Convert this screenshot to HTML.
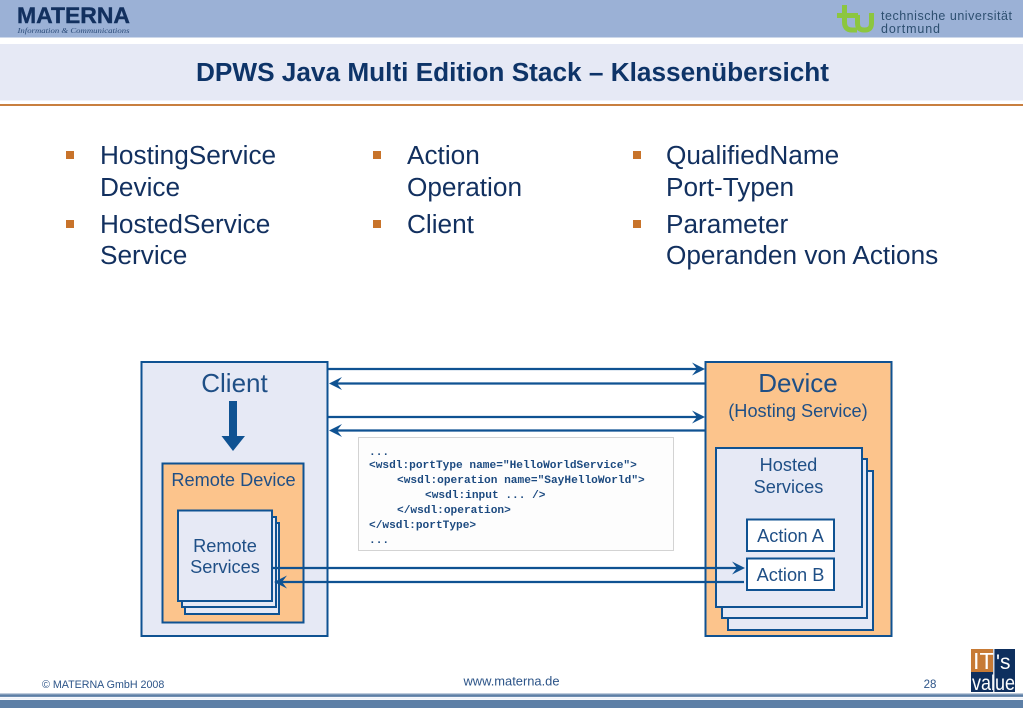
<!DOCTYPE html>
<html><head><meta charset="utf-8"><style>
html,body{margin:0;padding:0;background:#fff;width:1023px;height:708px;overflow:hidden}
svg{display:block}
text{font-family:"Liberation Sans",sans-serif}
.b{font-size:26.2px;fill:#12305f}
.m{font-family:"Liberation Mono",monospace;font-size:11.17px;font-weight:bold;fill:#1c4a80;white-space:pre}
.l{stroke:#0f5292;stroke-width:2;fill:none}
.h{fill:#0f5292}
</style></head><body>
<svg width="1023" height="708" viewBox="0 0 1023 708" xmlns="http://www.w3.org/2000/svg">
<rect x="0" y="0" width="1023" height="37.500" fill="#9bb1d6"/>
<text x="17" y="23" font-size="22.500" font-weight="bold" fill="#12305f" stroke="#12305f" stroke-width="0.400" textLength="113" lengthAdjust="spacingAndGlyphs">MATERNA</text>
<text x="17.500" y="33" style="font-family:'Liberation Serif',serif" font-size="7.500" font-style="italic" fill="#2a4a78" textLength="112" lengthAdjust="spacingAndGlyphs">Information &amp; Communications</text>
<path d="M837 15.500H858M844.500 5V22Q844.500 30 852 30H857" fill="none" stroke="#8cc63f" stroke-width="5"/>
<path d="M857.500 15V23Q857.500 30 864 30H865Q871.500 30 871.500 23V13" fill="none" stroke="#8cc63f" stroke-width="5"/>
<text x="881" y="20" font-size="12.500" fill="#2d4f70" textLength="131" lengthAdjust="spacing">technische universität</text>
<text x="881" y="33" font-size="12.500" fill="#2d4f70" textLength="59" lengthAdjust="spacing">dortmund</text>
<rect x="0" y="44" width="1023" height="56.500" fill="#e6e9f5"/>
<rect x="0" y="104" width="1023" height="2" fill="#c87f3f"/>
<text x="512.500" y="81" font-size="26.200" font-weight="bold" fill="#0e3468" text-anchor="middle">DPWS Java Multi Edition Stack – Klassenübersicht</text>

<g fill="#c8732a">
<rect x="66" y="151" width="8" height="8"/><rect x="66" y="220" width="8" height="8"/>
<rect x="373" y="151" width="8" height="8"/><rect x="373" y="220" width="8" height="8"/>
<rect x="633" y="151" width="8" height="8"/><rect x="633" y="220" width="8" height="8"/>
</g>
<text class="b" x="100" y="164">HostingService</text>
<text class="b" x="100" y="196">Device</text>
<text class="b" x="100" y="233">HostedService</text>
<text class="b" x="100" y="264">Service</text>
<text class="b" x="407" y="164">Action</text>
<text class="b" x="407" y="196">Operation</text>
<text class="b" x="407" y="233">Client</text>
<text class="b" x="666" y="164">QualifiedName</text>
<text class="b" x="666" y="196">Port-Typen</text>
<text class="b" x="666" y="233">Parameter</text>
<text class="b" x="666" y="264">Operanden von Actions</text>

<rect x="705.500" y="362" width="186" height="274" style="fill:#fcc48c" class="l"/>
<rect x="141.500" y="362" width="186" height="274" style="fill:#e6e9f5" class="l"/>
<text x="234.500" y="392" font-size="26" fill="#1f4f86" text-anchor="middle">Client</text>
<text x="798" y="392" font-size="26" fill="#1f4f86" text-anchor="middle">Device</text>
<text x="798" y="417" font-size="18.200" fill="#1f4f86" text-anchor="middle">(Hosting Service)</text>
<path class="h" d="M229 401H237V436H245L233 451L221.500 436H229Z"/>

<rect x="162.500" y="463.500" width="141" height="159" style="fill:#fcc48c" class="l"/>
<text x="233.500" y="486" text-anchor="middle" font-size="18.200" fill="#1f4f86">Remote Device</text>
<rect x="185" y="523" width="94" height="91" style="fill:#e6e9f5" class="l"/>
<rect x="182" y="517" width="94" height="90" style="fill:#e6e9f5" class="l"/>
<rect x="178" y="510.500" width="94" height="90.500" style="fill:#e6e9f5" class="l"/>
<text x="225" y="552" text-anchor="middle" font-size="18.200" fill="#1f4f86">Remote</text>
<text x="225" y="573" text-anchor="middle" font-size="18.200" fill="#1f4f86">Services</text>

<rect x="728" y="471" width="145" height="159" style="fill:#e6e9f5" class="l"/>
<rect x="722" y="459" width="145" height="159" style="fill:#e6e9f5" class="l"/>
<rect x="716" y="448" width="146" height="159" style="fill:#e6e9f5" class="l"/>
<text x="788.500" y="471" text-anchor="middle" font-size="18.200" fill="#1f4f86">Hosted</text>
<text x="788.500" y="493" text-anchor="middle" font-size="18.200" fill="#1f4f86">Services</text>
<rect x="747" y="519.500" width="87" height="31.500" class="l" style="fill:#fff"/>
<rect x="747" y="558.500" width="87" height="31.500" class="l" style="fill:#fff"/>
<text x="790.500" y="542" text-anchor="middle" font-size="18.200" fill="#1f4f86">Action A</text>
<text x="790.500" y="581" text-anchor="middle" font-size="18.200" fill="#1f4f86">Action B</text>

<rect x="358.500" y="437.500" width="315" height="113" fill="#fdfdfd" stroke="#a8a8a8" stroke-width="1" stroke-dasharray="1 1"/>
<text class="m" x="369" y="455">...</text>
<text class="m" x="369" y="468">&lt;wsdl:portType name="HelloWorldService"&gt;</text>
<text class="m" x="397" y="483">&lt;wsdl:operation name="SayHelloWorld"&gt;</text>
<text class="m" x="425" y="498">&lt;wsdl:input ... /&gt;</text>
<text class="m" x="397" y="513">&lt;/wsdl:operation&gt;</text>
<text class="m" x="369" y="528">&lt;/wsdl:portType&gt;</text>
<text class="m" x="369" y="543">...</text>

<g style="stroke:#0f5292;stroke-width:2.200">
<line x1="327" y1="369" x2="700" y2="369"/>
<line x1="334" y1="383.500" x2="705" y2="383.500"/>
<line x1="327" y1="417" x2="700" y2="417"/>
<line x1="334" y1="430.500" x2="705" y2="430.500"/>
<line x1="272" y1="568" x2="740" y2="568"/>
<line x1="279" y1="582" x2="744" y2="582"/>
</g>
<g class="h">
<path d="M705 369L692 362.500L697 369L692 375.500Z"/>
<path d="M705 417L692 410.500L697 417L692 423.500Z"/>
<path d="M329 383.500L342 377L337 383.500L342 390Z"/>
<path d="M329 430.500L342 424L337 430.500L342 437Z"/>
<path d="M745 568L732 561.500L737 568L732 574.500Z"/>
<path d="M274 582L287 575.500L282 582L287 588.500Z"/>
</g>

<text x="42" y="688" font-size="10.700" fill="#2c5488">© MATERNA GmbH 2008</text>
<text x="511.500" y="685.500" font-size="12.900" fill="#2c5488" text-anchor="middle">www.materna.de</text>
<text x="930" y="688" font-size="11.500" fill="#2c5488" text-anchor="middle">28</text>

<rect x="971" y="649" width="44" height="43" fill="#0e2f5e"/>
<rect x="971" y="649" width="22" height="23" fill="#c77a35"/>
<rect x="993" y="649" width="1.500" height="43" fill="#cfd6e2"/>
<text x="973" y="669" font-size="23.500" fill="#fff">IT</text>
<text x="996" y="669" font-size="21" fill="#fff">'s</text>
<text x="972" y="690" font-size="21" fill="#fff" textLength="43" lengthAdjust="spacingAndGlyphs">value</text>

<rect x="0" y="693.500" width="1023" height="3.500" fill="#7f99b8"/>
<rect x="0" y="695" width="1023" height="1.500" fill="#5c7fa6"/>
<rect x="0" y="697.500" width="1023" height="2" fill="#eef2f8"/>
<rect x="0" y="700" width="1023" height="8" fill="#5d7fa6"/>
</svg>
</body></html>
